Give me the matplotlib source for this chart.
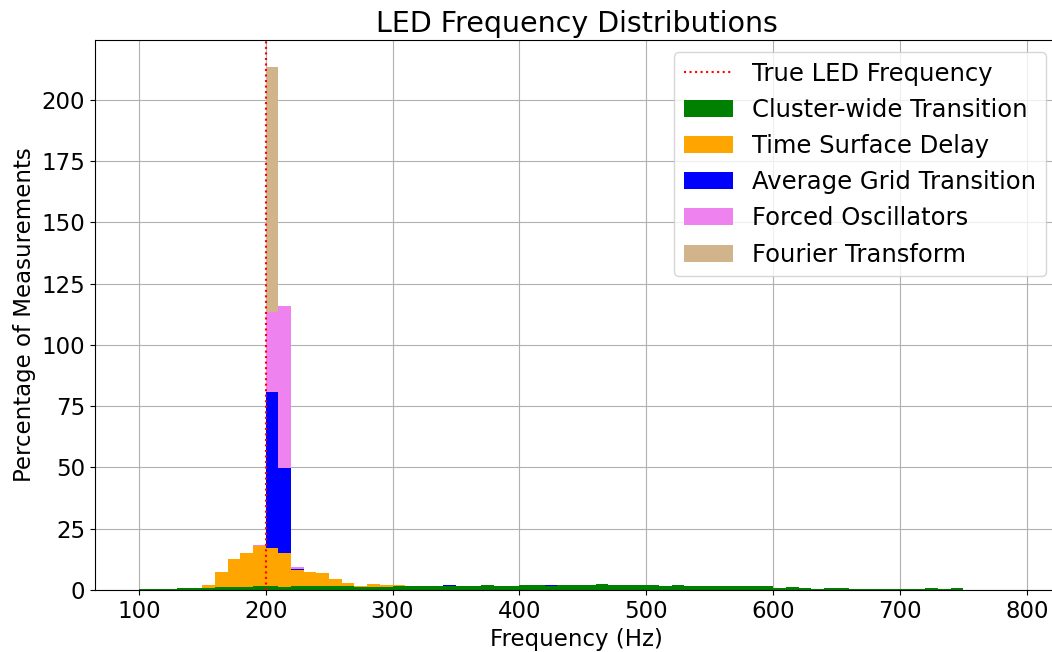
import numpy as np
import matplotlib
matplotlib.use("Agg")
import matplotlib.pyplot as plt

# 10 Hz bins from 100 to 790 Hz
bin_edges = np.arange(100, 800, 10)
true_freq = 200

# Cluster-wide Transition: one value per bin (100 .. 780 Hz bin starts)
cluster_pct = [
    0.3, 0.3, 0.3, 0.7, 0.7, 0.9, 1.2, 1.2, 1.2, 1.8,   # 100-190
    1.8, 1.2, 1.8, 1.8, 1.8, 1.8, 1.6, 1.3, 1.3, 1.3,   # 200-290
    1.6, 1.6, 1.6, 1.6, 1.6, 1.6, 1.6, 2.2, 1.6, 1.6,   # 300-390
    2.2, 1.9, 1.8, 2.2, 2.2, 2.2, 2.6, 1.9, 2.2, 2.2,   # 400-490
    2.0, 1.8, 2.2, 1.8, 1.8, 1.8, 1.8, 1.5, 1.5, 1.5,   # 500-590
    0.8, 1.3, 0.9, 0.5, 0.9, 0.9, 0.5, 0.5, 0.5, 0.5,   # 600-690
    0.3, 0.3, 0.7, 0.3, 0.7, 0.2, 0.2, 0.2, 0.2,        # 700-780
]

# Time Surface Delay
tsd_bins = [150, 160, 170, 180, 190, 200, 210, 220, 230, 240, 250, 260, 270, 280, 290, 300]
tsd_pct = [1.0, 6.1, 11.4, 14.1, 16.1, 15.4, 13.8, 6.5, 5.5, 5.0, 2.7, 1.1, 0.5, 1.1, 0.7, 0.3]

# Average Grid Transition
agt_bins = [200, 210, 220, 340, 420]
agt_pct = [63.8, 34.9, 0.4, 0.6, 0.4]

# Forced Oscillators
fo_bins = [190, 200, 210, 220]
fo_pct = [0.5, 32.4, 66.2, 0.6]

# Fourier Transform
ft_bins = [200]
ft_pct = [100.0]

labels = ["Cluster-wide Transition", "Time Surface Delay", "Average Grid Transition",
          "Forced Oscillators", "Fourier Transform"]
colors = ["green", "orange", "blue", "violet", "tan"]


def main():
    half = 5
    samples = [bin_edges[:-1] + half,
               np.array(tsd_bins) + half,
               np.array(agt_bins) + half,
               np.array(fo_bins) + half,
               np.array(ft_bins) + half]
    weights = [cluster_pct, tsd_pct, agt_pct, fo_pct, ft_pct]

    fig = plt.figure(figsize=(10.52, 6.52), dpi=100)
    # axes runs slightly past the right edge, as in the cropped original
    ax = fig.add_axes([0.0903, 0.0951, 0.9154, 0.8436])

    ax.axvline(true_freq, color="red", linestyle=":", linewidth=1.5, label="True LED Frequency")
    ax.hist(samples, bins=bin_edges, weights=weights, stacked=True,
            color=colors, label=labels)

    ax.set_xlim(65.5, 824.5)
    ax.set_ylim(0, 224.5)
    ax.set_axisbelow(True)
    ax.grid(True, color="#b0b0b0", linewidth=0.8)
    ax.tick_params(labelsize=16.5)
    ax.set_xlabel("Frequency (Hz)", fontsize=16.5)
    ax.set_ylabel("Percentage of Measurements", fontsize=16.5)
    ax.set_title("LED Frequency Distributions", fontsize=20.5)
    ax.legend(loc="upper right", fontsize=17.5)

    fig.savefig("out.png", dpi=100)


if __name__ == "__main__":
    main()
